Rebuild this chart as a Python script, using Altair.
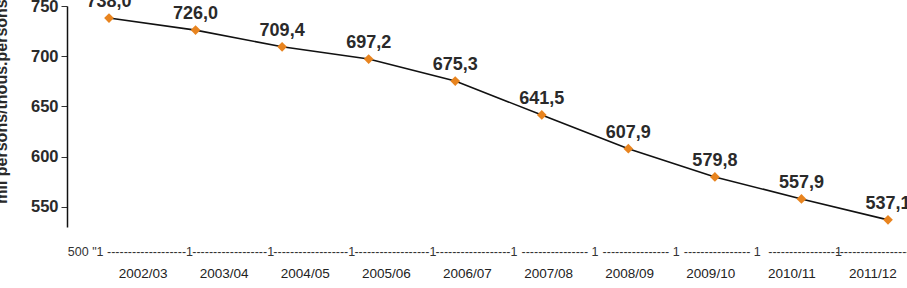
import altair as alt
import pandas as pd

years = ["2002/03", "2003/04", "2004/05", "2005/06", "2006/07",
         "2007/08", "2008/09", "2009/10", "2010/11", "2011/12"]
values = [738.0, 726.0, 709.4, 697.2, 675.3, 641.5, 607.9, 579.8, 557.9, 537.1]
row_text = ['500 "1 ' + "-" * 19 + "1",
            "-" * 18 + "1",
            "-" * 18 + "1",
            "-" * 18 + "1",
            "-" * 18 + "1",
            " " + "-" * 16 + " 1",
            " " + "-" * 16 + " 1",
            " " + "-" * 16 + " 1",
            " " + "-" * 16 + "1",
            "-" * 21]
y_ticks = [550, 600, 650, 700, 750]
y_title = "mil persons/thous.persons"

FONT = "Liberation Sans"
W, H = 840, 221

df = pd.DataFrame({"year": years, "v": values, "row": row_text})

xpt = alt.X("year:N", sort=years, axis=None,
            scale=alt.Scale(type="point", range=[42, 821], padding=0))
yv = alt.Y("v:Q",
           scale=alt.Scale(domain=[530, 750], nice=False, zero=False),
           axis=alt.Axis(values=y_ticks, grid=False, domainColor="#111",
                         domainWidth=1.5, tickColor="#333", tickSize=6,
                         tickWidth=1, labelFontSize=16.5, labelFont=FONT,
                         labelFontWeight="bold",
                         labelColor="#2a2a2a", labelPadding=3,
                         title=y_title, titleFont=FONT, titleFontSize=16,
                         titleFontWeight="bold", titleColor="#2a2a2a",
                         titleX=-58, titleY=95, titleBaseline="bottom",
                         titleAngle=270, titleAlign="center"))

base = alt.Chart(df).encode(x=xpt, y=yv)
line = base.mark_line(color="#111", strokeWidth=1.6)
pts = base.mark_point(shape="diamond", filled=True, opacity=1,
                      color="#E8841F", size=95)
lbl = base.transform_calculate(
    lab="replace(format(datum.v, '.1f'), '.', ',')"
).mark_text(font=FONT, fontSize=18, fontWeight="bold", color="#2a2a2a",
            dy=-16, baseline="middle").encode(text="lab:N")

xband = alt.X("year:N", sort=years,
              scale=alt.Scale(type="band", range=[35.5, 846.5],
                              paddingInner=0, paddingOuter=0),
              axis=alt.Axis(orient="bottom", domain=False, ticks=False,
                            labelFont=FONT, labelFontSize=13.5,
                            labelColor="#222", labelPadding=39,
                            labelAngle=0, title=None))
row = alt.Chart(df).mark_text(font=FONT, fontSize=12.5, color="#333",
                              align="right", baseline="middle",
                              dx=50).encode(
    x=xband, y=alt.value(246), text="row:N")

main = alt.layer(line, pts, lbl)
chart = alt.layer(main, row).resolve_scale(x="independent").properties(
    width=W, height=H,
    autosize=alt.AutoSizeParams(type="none"),
    padding={"left": 67, "top": 6, "right": 0, "bottom": 61},
    background="white"
).configure_view(stroke=None)

chart.save("out.html", embed_options={"renderer": "svg", "actions": False})
